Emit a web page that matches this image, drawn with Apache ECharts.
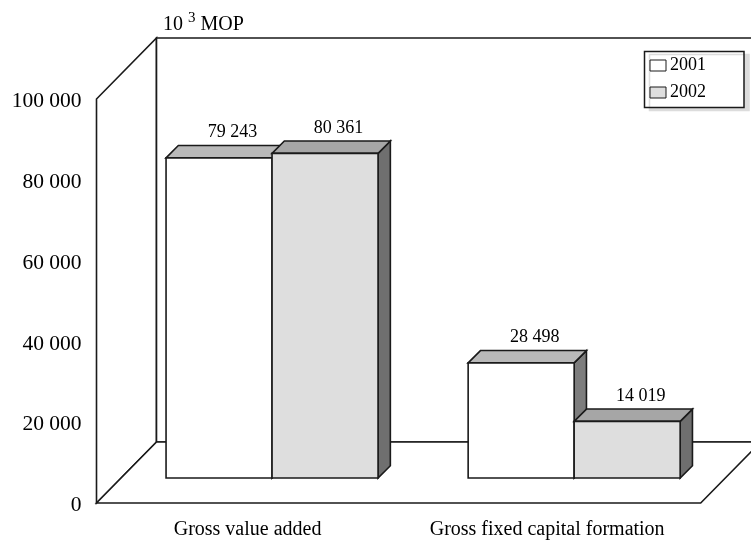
<!DOCTYPE html>
<html><head><meta charset="utf-8">
<style>html,body{margin:0;padding:0;background:#fff}#c{width:751px;height:540px}</style>
<script src="https://cdn.jsdelivr.net/npm/echarts@6/dist/echarts.min.js"></script>
</head><body><div id="c"></div>
<script>
const categories = ['Gross value added', 'Gross fixed capital formation'];
const years = ['2001', '2002'];
const values2001 = [79243, 28498];
const values2002 = [80361, 14019];
const yTicks = [0, 20000, 40000, 60000, 80000, 100000];

const FONT = '"Liberation Serif","Times New Roman",serif';
const INK = '#1a1a1a';
const chart = echarts.init(document.getElementById('c'), null, {renderer: 'canvas'});
const fmt = v => String(v).replace(/\B(?=(\d{3})+$)/g, ' ');
const WALL = {dx: 60, dy: -61};     // back wall offset
const BAR = {dx: 24.5, dy: -25, w: 106, d: 12.3};

function poly(points, fill, lw) {
  return {type: 'polygon', shape: {points}, style: {fill, stroke: INK, lineWidth: lw || 1.6, lineJoin: 'miter'}, silent: true};
}
function wallsRender(params, api) {
  const o = api.coord([0, 0]), t = api.coord([0, 100000]);
  const cw = api.size([1, 0])[0];
  const x0 = o[0] - cw / 2, x1 = x0 + 2 * cw, y0 = o[1], y1 = t[1];
  const bx = x0 + WALL.dx, by = y0 + WALL.dy, ty = y1 + WALL.dy;
  return {type: 'group', children: [
    poly([[x0, y0], [x0, y1], [bx, ty], [bx, by]], '#fff'),
    poly([[bx, by], [bx, ty], [x1 + WALL.dx, ty], [x1 + WALL.dx, by]], '#fff'),
    poly([[x0, y0], [bx, by], [x1 + WALL.dx, by], [x1, y0]], '#fff')
  ]};
}
function barRender(front, top, side, seriesOffset) {
  return function (params, api) {
    const cat = api.value(0), val = api.value(1);
    const p = api.coord([cat, val]), b = api.coord([cat, 0]);
    const xc = p[0] + BAR.dx, yTop = p[1] + BAR.dy, yBot = b[1] + BAR.dy;
    const x0 = xc + (seriesOffset < 0 ? -BAR.w : 0), x1 = x0 + BAR.w, d = BAR.d;
    return {type: 'group', children: [
      poly([[x1, yBot], [x1, yTop], [x1 + d, yTop - d], [x1 + d, yBot - d]], side),
      poly([[x0, yTop], [x0 + d, yTop - d], [x1 + d, yTop - d], [x1, yTop]], top),
      poly([[x0, yBot], [x0, yTop], [x1, yTop], [x1, yBot]], front),
      {type: 'text', silent: true, style: {
        x: (x0 + x1) / 2 + 13.5, y: yTop - 25.5, text: fmt(val), align: 'center', verticalAlign: 'middle',
        font: '18px ' + FONT, fill: '#000'}}
    ]};
  };
}

const series = [
  {type: 'custom', name: 'walls', renderItem: wallsRender, data: [[0, 0]], clip: false, silent: true, z: 1,
   encode: {x: 0, y: 1}},
  {type: 'custom', name: years[0], renderItem: barRender('#ffffff', '#b9b9b9', '#7d7d7d', -1),
   data: values2001.map((v, i) => [i, v]), clip: false, z: 2, silent: true, encode: {x: 0, y: 1},
   itemStyle: {color: '#ffffff'}},
  {type: 'custom', name: years[1], renderItem: barRender('#dedede', '#a6a6a6', '#6f6f6f', 1),
   data: values2002.map((v, i) => [i, v]), clip: false, z: 3, silent: true, encode: {x: 0, y: 1},
   itemStyle: {color: '#dedede'}}
];

chart.setOption({
  animation: false,
  backgroundColor: '#fff',
  textStyle: {fontFamily: FONT},
  title: {
    left: 158, top: 5.5, padding: 5,
    text: '{a|10 }{b|3}{a| MOP}',
    textStyle: {rich: {
      a: {fontFamily: FONT, fontSize: 20, color: '#000', fontWeight: 'normal', verticalAlign: 'bottom', lineHeight: 24},
      b: {fontFamily: FONT, fontSize: 15, color: '#000', fontWeight: 'normal', verticalAlign: 'top', lineHeight: 15}
    }}
  },
  legend: {
    orient: 'vertical', left: 644.5, top: 51.5,
    padding: [5, 38, 6, 5], itemGap: 9, itemWidth: 16, itemHeight: 11,
    backgroundColor: '#fff', borderColor: INK, borderWidth: 1.5,
    shadowColor: '#dcdcdc', shadowOffsetX: 5, shadowOffsetY: 3, shadowBlur: 0,
    selectedMode: false,
    textStyle: {fontFamily: FONT, fontSize: 18, color: '#000', padding: [0, 0, 0, -1]},
    data: [
      {name: years[0], icon: 'rect', itemStyle: {color: '#ffffff', borderColor: INK, borderWidth: 1}},
      {name: years[1], icon: 'rect', itemStyle: {color: '#dedede', borderColor: INK, borderWidth: 1}}
    ]
  },
  grid: {left: 96.5, top: 99, width: 604.2, height: 404.5, containLabel: false},
  xAxis: {
    type: 'category',
    data: [categories[0], {value: categories[1], textStyle: {padding: [0, 5, 0, 0]}}],
    boundaryGap: true,
    axisLine: {show: false}, axisTick: {show: false}, splitLine: {show: false},
    axisLabel: {fontFamily: FONT, fontSize: 20, color: '#000', margin: 17, interval: 0}
  },
  yAxis: {
    type: 'value', min: yTicks[0], max: yTicks[yTicks.length - 1], interval: yTicks[1] - yTicks[0],
    axisLine: {show: false}, axisTick: {show: false}, splitLine: {show: false},
    axisLabel: {fontFamily: FONT, fontSize: 21.5, color: '#000', margin: 15, verticalAlign: 'top', lineHeight: 5, formatter: v => fmt(v)}
  },
  series
});
</script></body></html>
